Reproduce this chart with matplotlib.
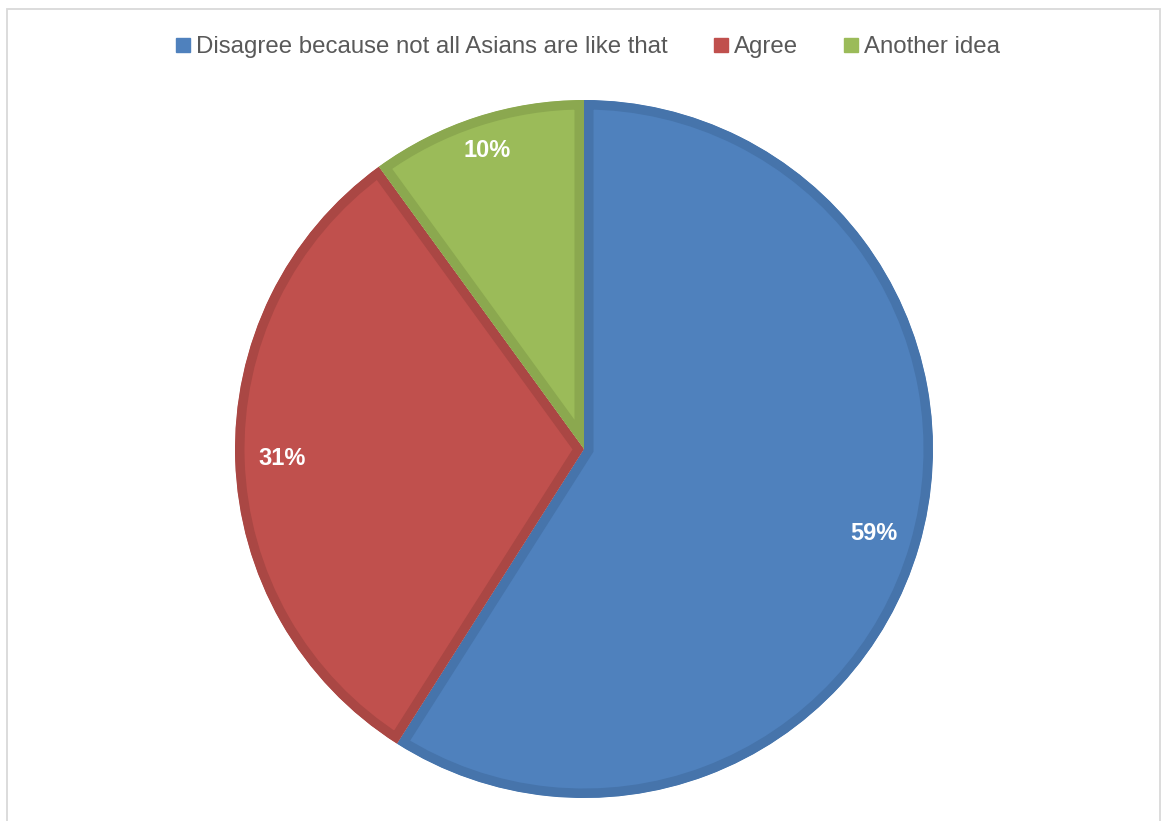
"""Pie chart of survey answers on the Asian stereotype statement."""

import numpy as np
import matplotlib.pyplot as plt
from matplotlib.lines import Line2D
from matplotlib.patches import Rectangle

plt.rcParams["font.family"] = ["Liberation Sans", "DejaVu Sans"]

answers = ["Disagree because not all Asians are like that", "Agree", "Another idea"]
shares = [59, 31, 10]
fill_colors = ["#4F81BD", "#C0504D", "#9BBB59"]
edge_colors = ["#4674AB", "#AA4744", "#8BA84F"]

FIG_W, FIG_H = 1165, 821
DPI = 100
CENTER = (584, 449)      # pie centre, pixels from top-left
RADIUS = 349             # pixels
BORDER_PX = 9.5          # inner border width of each slice


def main():
    fig = plt.figure(figsize=(FIG_W / DPI, FIG_H / DPI), dpi=DPI)

    # square axes sized so the unit pie lands on CENTER with RADIUS
    cx = CENTER[0] / FIG_W
    cy = (FIG_H - CENTER[1]) / FIG_H
    ax = fig.add_axes([cx - RADIUS / FIG_W, cy - RADIUS / FIG_H,
                       2 * RADIUS / FIG_W, 2 * RADIUS / FIG_H])

    wedges, _ = ax.pie(
        shares,
        colors=fill_colors,
        startangle=90,
        counterclock=False,
        radius=1.0,
        frame=True,
    )
    ax.set_xlim(-1, 1)
    ax.set_ylim(-1, 1)
    ax.set_aspect("equal")
    ax.axis("off")

    # border drawn twice as wide, then clipped to the slice so it sits inside
    lw_pt = 2 * BORDER_PX * 72 / DPI
    for w, ec in zip(wedges, edge_colors):
        w.set_edgecolor(ec)
        w.set_linewidth(lw_pt)
        w.set_joinstyle("miter")
        w.set_clip_on(True)
        w.set_clip_path(w.get_path(), ax.transData)

    # percentage labels
    label_dist = [0.866, 0.866, 0.9]
    for w, val, d in zip(wedges, shares, label_dist):
        ang = np.deg2rad((w.theta1 + w.theta2) / 2)
        ax.text(d * np.cos(ang), d * np.sin(ang), f"{val}%",
                ha="center", va="center", color="white",
                fontsize=17, fontweight="bold")

    handles = [
        Line2D([], [], linestyle="none", marker="s", markersize=9.5,
               markerfacecolor=c, markeredgecolor=c)
        for c in fill_colors
    ]
    fig.legend(
        handles, answers,
        loc="center", bbox_to_anchor=(588 / FIG_W, 1 - 47 / FIG_H),
        ncol=3, frameon=False, fontsize=17.3,
        handlelength=0.6, handletextpad=0.25, columnspacing=1.9,
        labelcolor="#595959",
    )

    # light outer frame, bottom edge runs off the canvas
    fig.add_artist(Rectangle(
        (7 / FIG_W, -0.05), (1160 - 7) / FIG_W, 1.05 - 9 / FIG_H,
        transform=fig.transFigure, fill=False,
        edgecolor="#D9D9D9", linewidth=1.3,
    ))

    fig.savefig("out.png", dpi=DPI, facecolor="white")
    plt.close(fig)
    return 0


if __name__ == "__main__":
    raise SystemExit(main())
